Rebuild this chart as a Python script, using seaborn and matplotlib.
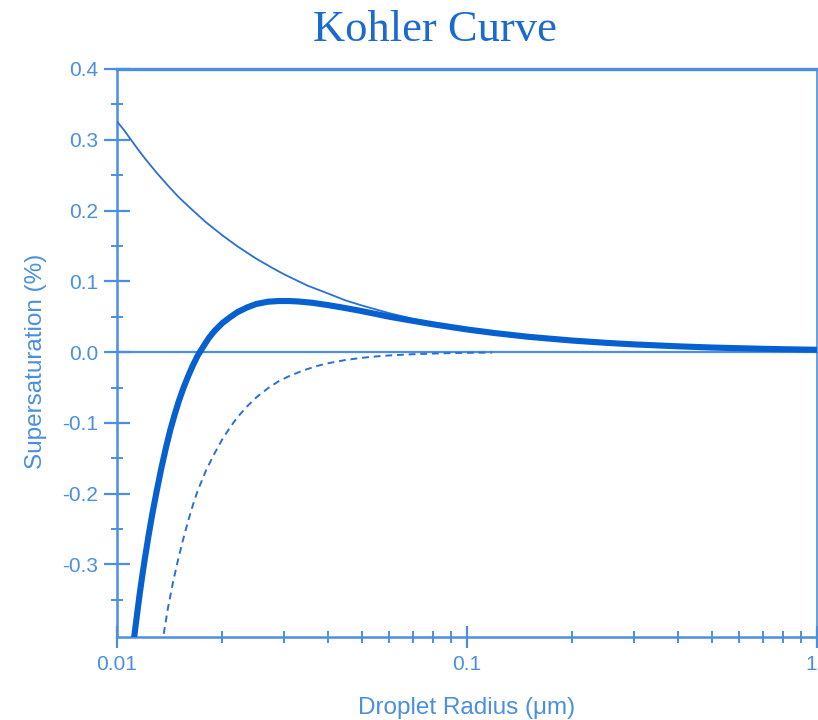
import matplotlib
matplotlib.use("Agg")
import matplotlib.pyplot as plt
import matplotlib.ticker as mticker
import numpy as np
import pandas as pd
import seaborn as sns

# Droplet radius (micrometres) and supersaturation (%) for each curve
# Curvature (Kelvin) term
kelvin_radius = [0.01, 0.0105, 0.011, 0.0115, 0.012, 0.013, 0.014, 0.015, 0.016,
                 0.017, 0.018, 0.02, 0.022, 0.025, 0.028, 0.03, 0.035, 0.04,
                 0.045, 0.05, 0.06, 0.07, 0.08, 0.1, 0.12, 0.15, 0.2, 0.25, 0.3,
                 0.4, 0.5, 0.6, 0.7, 0.8, 1.0]
kelvin_ss = [0.326, 0.313, 0.299, 0.286, 0.274, 0.253, 0.235, 0.219, 0.206,
             0.194, 0.183, 0.165, 0.150, 0.132, 0.118, 0.110, 0.094, 0.083,
             0.073, 0.066, 0.055, 0.047, 0.041, 0.033, 0.0275, 0.022, 0.0165,
             0.0132, 0.011, 0.0083, 0.0066, 0.0055, 0.0047, 0.0041, 0.0033]

# Full Kohler curve
kohler_radius = [0.0112, 0.0114, 0.0116, 0.0118, 0.012, 0.0123, 0.0126, 0.013,
                 0.0134, 0.0138, 0.0142, 0.0146, 0.015, 0.0155, 0.016, 0.0165,
                 0.017, 0.0176, 0.0183, 0.019, 0.02, 0.021, 0.022, 0.0235,
                 0.025, 0.027, 0.029, 0.031, 0.033, 0.036, 0.04, 0.045, 0.05,
                 0.06, 0.07, 0.08, 0.1, 0.12, 0.15, 0.2, 0.25, 0.3, 0.4, 0.5,
                 0.6, 0.7, 0.8, 1.0]
kohler_ss = [-0.402, -0.372, -0.343, -0.317, -0.293, -0.260, -0.230, -0.195,
             -0.163, -0.135, -0.110, -0.089, -0.070, -0.050, -0.033, -0.018,
             -0.005, 0.007, 0.020, 0.030, 0.041, 0.049, 0.056, 0.063,
             0.068, 0.0712, 0.0722, 0.0722, 0.0715, 0.0698, 0.0665, 0.0622, 0.0580,
             0.0500, 0.0442, 0.0393, 0.0320, 0.0269, 0.0216, 0.0163, 0.0131,
             0.0109, 0.0082, 0.0065, 0.0055, 0.0047, 0.0041, 0.0033]

# Solute (Raoult) term
solute_radius = [0.0136, 0.014, 0.0145, 0.015, 0.0155, 0.016, 0.0165, 0.017,
                 0.018, 0.019, 0.02, 0.021, 0.022, 0.0235, 0.025, 0.027, 0.029,
                 0.031, 0.034, 0.037, 0.04, 0.045, 0.05, 0.055, 0.06, 0.07,
                 0.08, 0.09, 0.1, 0.118]
solute_ss = [-0.398, -0.360, -0.322, -0.290, -0.262, -0.237, -0.215, -0.196,
             -0.166, -0.143, -0.123, -0.107, -0.093, -0.077, -0.064, -0.051,
             -0.041, -0.034, -0.026, -0.020, -0.0158, -0.0111, -0.0081,
             -0.0061, -0.0047, -0.0030, -0.0020, -0.0014, -0.0010, -0.0006]

x_ticks = [0.01, 0.1, 1]
x_tick_labels = ["0.01", "0.1", "1"]
y_ticks = [-0.3, -0.2, -0.1, 0.0, 0.1, 0.2, 0.3, 0.4]
y_tick_labels = ["-0.3", "-0.2", "-0.1", "0.0", "0.1", "0.2", "0.3", "0.4"]
y_minor_ticks = [-0.35, -0.25, -0.15, -0.05, 0.05, 0.15, 0.25, 0.35]

title = "Kohler Curve"
x_label = "Droplet Radius (\u03bcm)"
y_label = "Supersaturation (%)"

kelvin_df = pd.DataFrame({"radius": kelvin_radius, "ss": kelvin_ss})
kohler_df = pd.DataFrame({"radius": kohler_radius, "ss": kohler_ss})
solute_df = pd.DataFrame({"radius": solute_radius, "ss": solute_ss})

sns.set_style("white")
plt.rcParams["font.family"] = ["Liberation Sans", "DejaVu Sans"]

axis_blue = "#4a8fe0"
line_blue = "#0660cf"
thin_blue = "#2a70d2"
text_blue = "#4a8fe0"

fig = plt.figure(figsize=(8.18, 7.2), dpi=100)
ax = fig.add_axes([117 / 818, 1 - 637 / 720, 700 / 818, (637 - 69) / 720])

ax.axhline(0.0, color=axis_blue, lw=1.6, zorder=1)

sns.lineplot(data=kelvin_df, x="radius", y="ss", ax=ax, color=thin_blue,
             lw=1.3, zorder=3)
sns.lineplot(data=kohler_df, x="radius", y="ss", ax=ax, color=line_blue,
             lw=4.4, zorder=4)
sns.lineplot(data=solute_df, x="radius", y="ss", ax=ax, color=thin_blue,
             lw=1.4, linestyle=(0, (3.5, 2.5)), zorder=3)

ax.set_xscale("log")
ax.set_xlim(0.01, 1.0)
ax.set_ylim(-0.4025, 0.4)

ax.set_xticks(x_ticks)
xlabels = ax.set_xticklabels(x_tick_labels)
xlabels[-1].set_ha("right")
ax.xaxis.set_minor_locator(mticker.LogLocator(base=10, subs=np.arange(2, 10)))
ax.xaxis.set_minor_formatter(mticker.NullFormatter())
ax.set_yticks(y_ticks)
ax.set_yticklabels(y_tick_labels)
ax.yaxis.set_minor_locator(mticker.FixedLocator(y_minor_ticks))

ax.tick_params(axis="both", which="both", bottom=True, left=True,
               top=False, right=False)
ax.tick_params(axis="y", which="major", direction="inout", length=19, width=1.6,
               color=axis_blue, labelcolor=text_blue, labelsize=15, pad=4)
ax.tick_params(axis="y", which="minor", direction="inout", length=9, width=1.4,
               color=axis_blue)
ax.tick_params(axis="x", which="major", direction="inout", length=16, width=1.6,
               color=axis_blue, labelcolor=text_blue, labelsize=15, pad=5)
ax.tick_params(axis="x", which="minor", direction="inout", length=8, width=1.4,
               color=axis_blue)

for side, lw in (("left", 1.8), ("bottom", 1.8), ("top", 2.4), ("right", 1.2)):
    ax.spines[side].set_visible(True)
    ax.spines[side].set_color(axis_blue)
    ax.spines[side].set_linewidth(lw)

ax.set_xlabel(x_label, color=text_blue, fontsize=17.5)
ax.set_ylabel(y_label, color=text_blue, fontsize=17.5)
ax.xaxis.set_label_coords(0.5, -0.106)
ax.yaxis.set_label_coords(-0.1, 0.485)
ax.grid(False)

fig.text(435 / 818, 1 - 30 / 720, title, ha="center", va="center",
         color="#1a6ad0", fontsize=32, family=["Liberation Serif", "DejaVu Serif"])

fig.savefig("out.png", dpi=100)
